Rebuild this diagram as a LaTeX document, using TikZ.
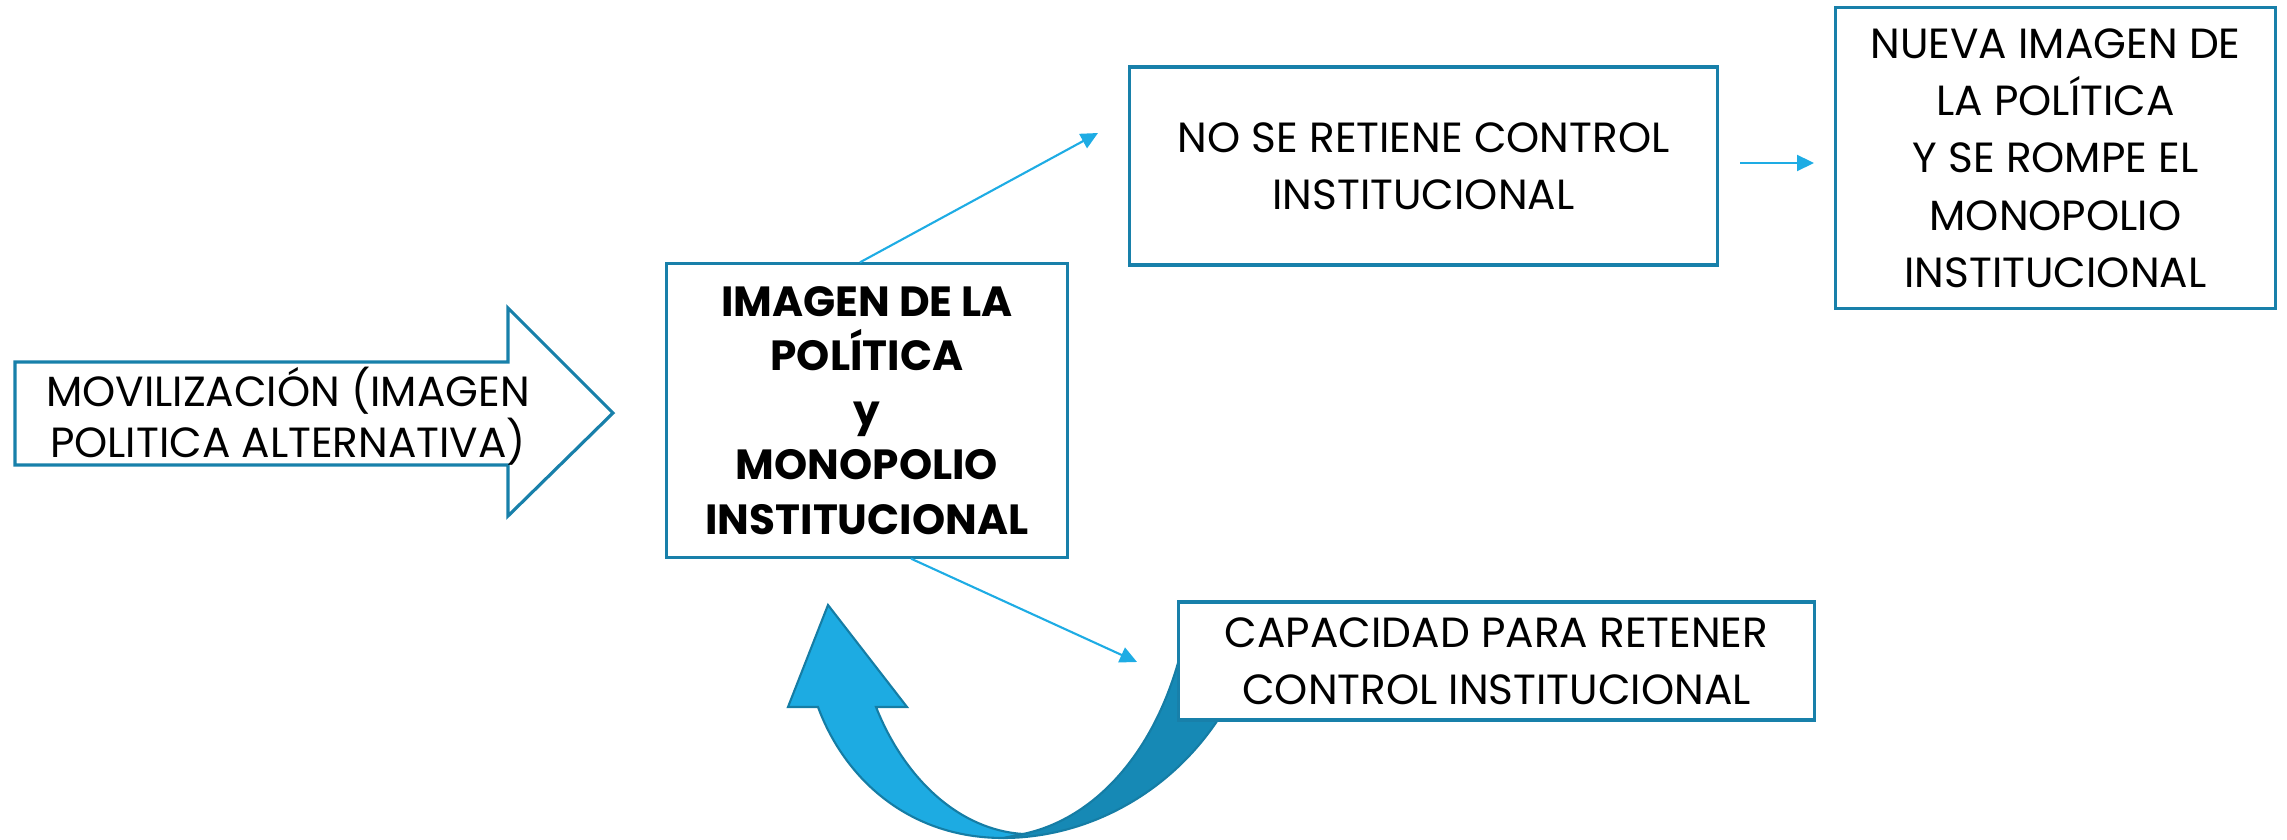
\documentclass[tikz,border=0pt]{standalone}
\usepackage{fontspec}
\setmainfont{Poppins}
\usepackage{tikz}
\usetikzlibrary{arrows.meta}
\definecolor{BoxColor}{RGB}{24,128,170}
\definecolor{LinkColor}{RGB}{30,172,228}
\definecolor{LightBlue}{RGB}{29,171,226}
\definecolor{DarkBlue}{RGB}{22,137,181}
\definecolor{EdgeBlue}{RGB}{21,125,165}

\tikzset{
  box/.style={draw=BoxColor, line width=0.9pt, fill=white, align=center, inner sep=0pt,
              font=\fontsize{12}{16.3}\selectfont},
  link/.style={-{Triangle[length=0.17cm,width=0.16cm]}, LinkColor, line width=0.6pt}
}

\begin{document}
\begin{tikzpicture}[x=0.01cm, y=-0.01cm]
  \useasboundingbox (0,0) rectangle (2287,840);

  % big arrow on the left
  \draw[BoxColor, line width=0.9pt, fill=white]
    (15,362) -- (508,362) -- (508,308) -- (613,413) -- (508,516) -- (508,465) -- (15,465) -- cycle;
  \node[align=center, font=\fontsize{12}{14.5}\selectfont] (movil) at (288,416)
    {MOVILIZACIÓN (IMAGEN\\POLITICA ALTERNATIVA)};

  % curved arrow, back face then front face
  \draw[EdgeBlue, line width=0.6pt, fill=DarkBlue]
    (1003,838) .. controls (1090,838) and (1180,790) .. (1230,700) -- (1190,640) -- (1178,663)
    .. controls (1150,760) and (1090,820) .. (1023,834) -- cycle;
  \draw[EdgeBlue, line width=0.6pt, fill=LightBlue]
    (828,605) -- (907,707) -- (876,707) .. controls (905,780) and (960,830) .. (1023,834)
    -- (1003,838) .. controls (910,838) and (845,780) .. (818,707) -- (788,707) -- cycle;

  \node[box, minimum width=4cm, minimum height=2.93cm, font=\fontsize{12}{15.5}\selectfont\bfseries]
    (imagen) at (867,410.5) {IMAGEN DE LA\\POLÍTICA\\y\\MONOPOLIO\\INSTITUCIONAL};
  \node[box, minimum width=5.87cm, minimum height=1.98cm] (noret) at (1423.5,166)
    {NO SE RETIENE CONTROL\\INSTITUCIONAL};
  \node[box, minimum width=4.39cm, minimum height=3cm] (nueva) at (2055.5,158)
    {NUEVA IMAGEN DE\\LA POLÍTICA\\Y SE ROMPE EL\\MONOPOLIO\\INSTITUCIONAL};
  \node[box, minimum width=6.35cm, minimum height=1.18cm] (capac) at (1496.5,661)
    {CAPACIDAD PARA RETENER\\CONTROL INSTITUCIONAL};

  % connectors
  \coordinate (up) at (1098,133);
  \coordinate (down) at (1137,662);
  \coordinate (gapl) at (1740,163);
  \coordinate (gapr) at (1814,163);
  \draw[link] ([xshift=-0.07cm]imagen.north) -- (up);
  \draw[link] ([xshift=0.44cm]imagen.south) -- (down);
  \draw[link] (gapl) -- (gapr);

\end{tikzpicture}
\end{document}
